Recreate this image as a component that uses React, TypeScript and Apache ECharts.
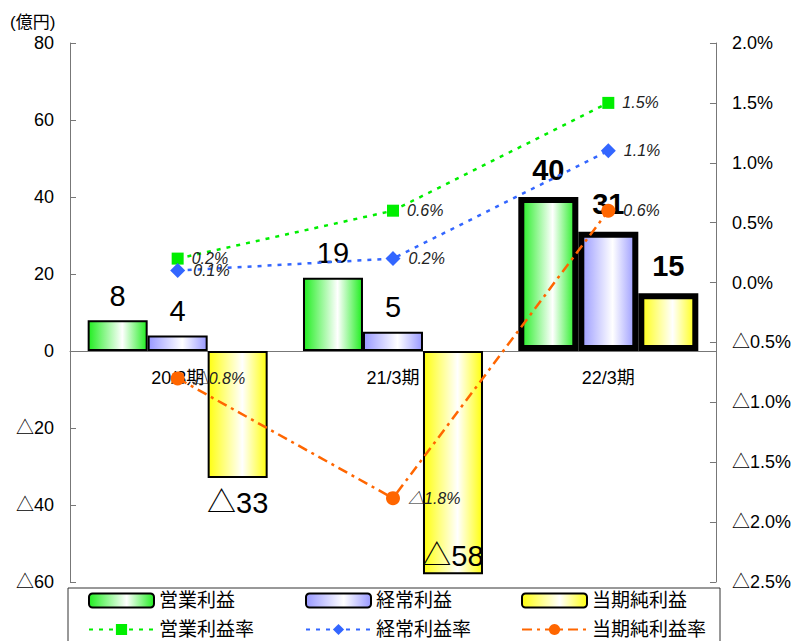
import React, { useEffect, useRef } from "react";
import * as echarts from "echarts";

const categories = ["20/3期", "21/3期", "22/3期"];
const opProfit = [8, 19, 40];
const ordProfit = [4, 5, 31];
const netProfit = [-33, -58, 15];
const opRate = [0.2, 0.6, 1.5];
const ordRate = [0.1, 0.2, 1.1];
const netRate = [-0.8, -1.8, 0.6];

const leftTicks = { min: -60, max: 80, interval: 20 };
const rightTicks = { min: -2.5, max: 2.0, interval: 0.5 };

const FONT = "'Liberation Sans', 'Noto Sans CJK JP', sans-serif";

const fmtNum = (v: number) => (v < 0 ? "△" + Math.abs(v) : String(v));
const fmtPct = (v: number) =>
  (v < 0 ? "△" + Math.abs(v).toFixed(1) : v.toFixed(1)) + "%";

const grad = (edge: string) =>
  new echarts.graphic.LinearGradient(0, 0, 1, 0, [
    { offset: 0, color: edge },
    { offset: 0.58, color: "#ffffff" },
    { offset: 1, color: edge },
  ]);

function barData(values: number[]) {
  return values.map((v, i) => {
    const highlight = i === values.length - 1;
    const inside = v < leftTicks.min + 10;
    return {
      value: v,
      itemStyle: highlight ? { borderWidth: 6 } : undefined,
      label: {
        position: inside ? "insideBottom" : v < 0 ? "bottom" : "top",
        distance: inside ? 4 : highlight ? 13 : 10,
        fontWeight: highlight ? "bold" : "normal",
      },
    };
  });
}

export default function App() {
  const ref = useRef<HTMLDivElement>(null);
  useEffect(() => {
    if (!ref.current) return;
    const chart = echarts.init(ref.current, null, { renderer: "svg" });
    const gridTop = 43;
    const gridBottom = 59;
    const plotH = 641 - gridTop - gridBottom;
    const zeroFromBottom =
      (plotH * (0 - leftTicks.min)) / (leftTicks.max - leftTicks.min);
    const barLabel = {
      show: true,
      fontSize: 29,
      color: "#000",
      fontFamily: FONT,
      formatter: (p: any) => fmtNum(p.value),
    };
    const lineLabel = {
      show: true,
      position: "right",
      distance: 8,
      fontSize: 16,
      fontStyle: "italic",
      color: "#222",
      fontFamily: FONT,
      formatter: (p: any) => fmtPct(p.value),
    };
    const barSeries = (name: string, data: number[], edge: string) => ({
      name,
      type: "bar",
      yAxisIndex: 0,
      barWidth: 60,
      barGap: "0%",
      data: barData(data),
      itemStyle: { color: grad(edge), borderColor: "#000", borderWidth: 2 },
      label: barLabel,
    });
    const lineSeries = (
      name: string,
      data: number[],
      color: string,
      symbol: string,
      size: number,
      dash: number[]
    ) => ({
      name,
      type: "line",
      yAxisIndex: 1,
      data,
      symbol,
      symbolSize: size,
      itemStyle: { color },
      lineStyle: { color, width: 2.5, type: dash },
      label: lineLabel,
      z: 5,
    });
    const legendCommon = {
      padding: 0,
      itemWidth: 65,
      itemHeight: 14,
      itemGap: 0,
      selectedMode: false,
      textStyle: { fontSize: 19, color: "#000", fontFamily: FONT },
    };
    const legendCols = [88, 305, 521];
    const row1 = ["営業利益", "経常利益", "当期純利益"];
    const row2 = ["営業利益率", "経常利益率", "当期純利益率"];
    const legends = [
      ...row1.map((n, i) => ({ ...legendCommon, data: [n], left: legendCols[i], top: 591 })),
      ...row2.map((n, i) => ({ ...legendCommon, data: [n], left: legendCols[i], top: 620 })),
    ];
    chart.setOption({
      animation: false,
      textStyle: { fontFamily: FONT },
      grid: { left: 70, right: 78, top: gridTop, bottom: gridBottom },
      legend: legends,
      graphic: [
        {
          type: "text",
          left: 10,
          top: 14,
          style: { text: "(億円)", fontSize: 17, fill: "#000", fontFamily: FONT },
        },
        {
          type: "rect",
          shape: { x: 68, y: 588, width: 652, height: 80 },
          style: { fill: "none", stroke: "#333", lineWidth: 1 },
          z: -1,
        },
      ],
      xAxis: {
        type: "category",
        data: categories,
        axisLine: { onZero: true, onZeroAxisIndex: 0, lineStyle: { color: "#777", width: 1 } },
        axisTick: { inside: true, length: 7, lineStyle: { color: "#777" } },
        axisLabel: {
          fontSize: 18,
          color: "#000",
          margin: 18 - zeroFromBottom,
          fontFamily: FONT,
        },
      },
      yAxis: [
        {
          type: "value",
          min: leftTicks.min,
          max: leftTicks.max,
          interval: leftTicks.interval,
          splitLine: { show: false },
          axisLine: { show: true, onZero: false, lineStyle: { color: "#777" } },
          axisTick: { show: true, inside: true, length: 6, lineStyle: { color: "#777" } },
          axisLabel: { fontSize: 18, color: "#000", margin: 16, formatter: fmtNum, fontFamily: FONT },
        },
        {
          type: "value",
          min: rightTicks.min,
          max: rightTicks.max,
          interval: rightTicks.interval,
          splitLine: { show: false },
          axisLine: { show: true, onZero: false, lineStyle: { color: "#777" } },
          axisTick: { show: true, inside: true, length: 6, lineStyle: { color: "#777" } },
          axisLabel: { fontSize: 18, color: "#000", margin: 16, formatter: fmtPct, fontFamily: FONT },
        },
      ],
      series: [
        barSeries("営業利益", opProfit, "#22ee22"),
        barSeries("経常利益", ordProfit, "#9999ff"),
        barSeries("当期純利益", netProfit, "#ffff11"),
        lineSeries("営業利益率", opRate, "#00ee00", "rect", 12, [4, 6]),
        lineSeries("経常利益率", ordRate, "#3366ff", "diamond", 15, [4, 6]),
        lineSeries("当期純利益率", netRate, "#ff6600", "circle", 14, [10, 5, 3, 5]),
      ],
    });
    return () => chart.dispose();
  }, []);
  return (
    <div
      ref={ref}
      style={{ position: "fixed", left: 0, top: 0, width: 794, height: 641, background: "#fff" }}
    />
  );
}
